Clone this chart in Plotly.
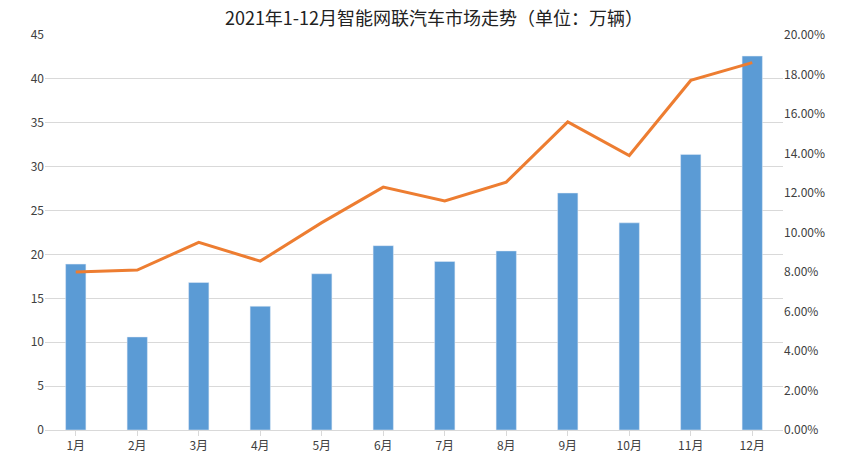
import plotly.graph_objects as go

months = [f"{i}月" for i in range(1, 13)]
sales = [18.9, 10.6, 16.8, 14.1, 17.8, 21.0, 19.2, 20.4, 27.0, 23.6, 31.4, 42.6]
share = [0.080, 0.081, 0.095, 0.0855, 0.105, 0.123, 0.116, 0.1255, 0.156, 0.139, 0.177, 0.186]

fig = go.Figure()
fig.add_trace(go.Bar(x=months, y=sales, name="2021智能网联汽车销量（万辆）",
                     marker_color="#5b9bd5", width=0.33))
fig.add_trace(go.Scatter(x=months, y=share, name="2021智能网联汽车占比", yaxis="y2",
                         mode="lines", line=dict(color="#ed7d31", width=3)))

fig.update_layout(
    width=852, height=466,
    paper_bgcolor="white", plot_bgcolor="white",
    font=dict(family="Noto Sans CJK SC", size=12, color="#404040"),
    title=dict(text="2021年1-12月智能网联汽车市场走势（单位：万辆）", x=0.5, y=0.978,
               yanchor="middle", font=dict(size=18, color="#222")),
    margin=dict(l=37, r=77, t=27, b=44, autoexpand=False),
    xaxis=dict(showline=True, linecolor="#d9d9d9", ticks="outside", tickcolor="#d9d9d9"),
    yaxis=dict(range=[0, 45], dtick=5, gridcolor="#d9d9d9", zeroline=False),
    yaxis2=dict(range=[0, 0.2], dtick=0.02, tickformat=".2%", overlaying="y",
                side="right", showgrid=False, zeroline=False),
    legend=dict(orientation="h", x=0.5, xanchor="center", y=-0.075, yanchor="top"),
    bargap=0.5,
)

fig.write_html("out.html")
